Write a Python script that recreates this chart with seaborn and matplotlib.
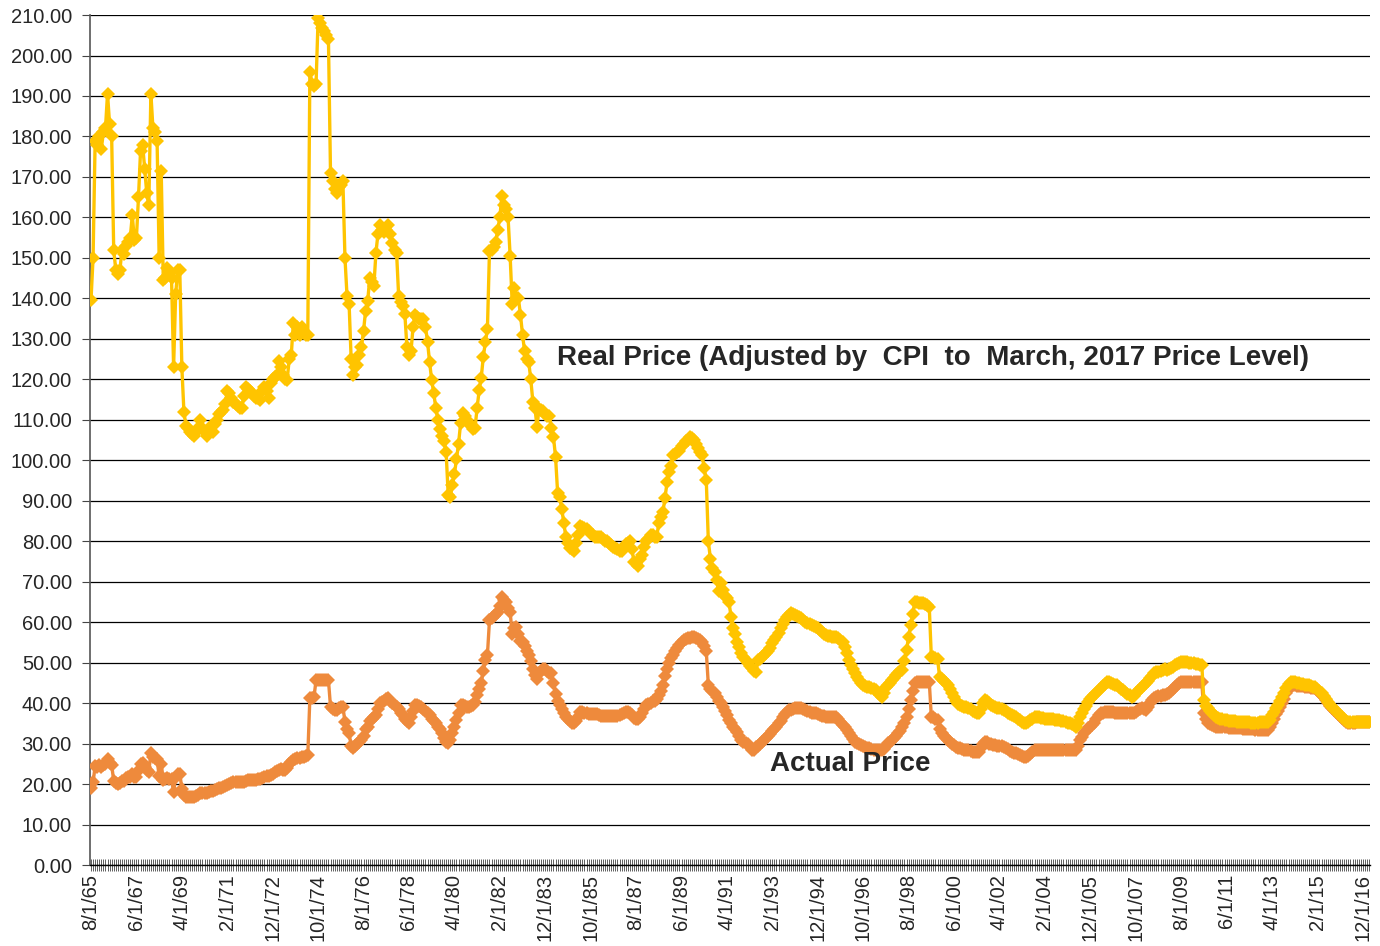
import numpy as np
import pandas as pd
import matplotlib
matplotlib.use('Agg')
import matplotlib.pyplot as plt
import matplotlib.ticker as mticker
import seaborn as sns

# monthly prices, Aug 1965 .. Mar 2017 (one row per calendar year)
real_price = [
    139.6, 150.0, 179.0, 178.0, 180.0,                                            # 1965
    177.0, 181.0, 182.0, 190.6, 183.0, 180.0, 152.0, 147.0, 146.0, 147.0, 152.0, 151.0,  # 1966
    153.0, 154.0, 155.0, 160.5, 154.5, 155.0, 165.0, 176.5, 178.0, 172.0, 166.0, 163.0,  # 1967
    190.6, 182.0, 181.0, 179.0, 150.0, 171.5, 144.5, 145.0, 147.5, 146.0, 145.0, 123.0,  # 1968
    141.0, 147.0, 147.0, 123.0, 112.0, 108.5, 108.0, 107.0, 106.5, 106.0, 107.0, 108.0,  # 1969
    110.0, 108.0, 107.0, 106.0, 107.0, 108.5, 107.0, 109.0, 110.0, 111.5, 112.0, 112.5,  # 1970
    114.0, 117.0, 116.5, 115.5, 114.5, 114.0, 113.5, 113.0, 113.0, 116.0, 118.0, 117.5,  # 1971
    117.0, 116.5, 116.0, 115.5, 115.5, 115.0, 117.0, 118.0, 117.0, 115.5, 119.0, 120.0,  # 1972
    120.5, 121.0, 124.5, 123.0, 121.0, 120.0, 119.8, 125.0, 126.0, 134.0, 131.0, 133.0,  # 1973
    131.0, 133.0, 131.5, 131.0, 131.0, 196.0, 193.0, 192.5, 193.0, 209.3, 208.0, 206.8,  # 1974
    206.0, 205.0, 204.0, 171.0, 169.0, 167.0, 166.0, 167.5, 168.0, 169.0, 150.0, 140.6,  # 1975
    138.7, 125.0, 121.0, 123.0, 123.5, 126.0, 128.0, 132.0, 137.0, 139.3, 145.0, 144.0,  # 1976
    143.0, 151.3, 156.0, 158.2, 157.0, 156.4, 157.0, 158.2, 156.0, 153.8, 152.0, 151.3,  # 1977
    140.6, 139.0, 138.0, 136.2, 128.0, 126.0, 127.0, 133.0, 136.0, 135.5, 135.0, 134.9,  # 1978
    134.9, 133.0, 129.2, 124.2, 119.8, 116.6, 112.9, 110.0, 107.8, 106.0, 104.7, 102.1,  # 1979
    91.4, 90.9, 93.9, 96.5, 100.3, 104.0, 109.1, 111.7, 111.0, 110.0, 109.1, 108.5,      # 1980
    107.8, 108.0, 112.9, 117.3, 120.4, 125.5, 129.2, 132.4, 151.8, 152.0, 152.6, 154.0,  # 1981
    157.0, 160.0, 165.2, 163.0, 162.0, 160.0, 150.5, 138.7, 142.5, 140.0, 140.0, 136.0,  # 1982
    131.0, 127.0, 125.0, 124.3, 120.0, 114.5, 113.0, 108.3, 112.7, 112.5, 112.2, 111.5,  # 1983
    111.0, 110.9, 108.0, 105.7, 100.8, 92.0, 91.0, 88.0, 84.5, 81.0, 79.5, 78.3,         # 1984
    78.0, 77.6, 79.5, 81.5, 83.7, 83.5, 83.3, 83.0, 82.5, 81.9, 81.5, 81.0,              # 1985
    81.0, 81.0, 81.0, 80.5, 80.0, 80.0, 79.5, 79.0, 78.5, 78.3, 78.0, 77.6,              # 1986
    77.6, 78.5, 79.3, 79.5, 80.0, 78.0, 74.9, 74.5, 73.9, 75.5, 76.6, 78.5,              # 1987
    80.0, 80.5, 81.5, 81.5, 81.0, 81.0, 84.5, 86.0, 87.2, 90.7, 94.6, 97.0,              # 1988
    98.6, 101.3, 101.5, 102.0, 102.3, 103.5, 104.0, 104.7, 105.0, 105.7, 105.5, 105.0,   # 1989
    104.0, 103.0, 102.0, 101.3, 98.0, 95.1, 80.0, 75.7, 73.5, 72.5, 70.5, 67.7,          # 1990
    69.7, 68.0, 66.5, 66.0, 65.0, 61.3, 58.5, 57.0, 55.0, 53.9, 52.5, 51.5,              # 1991
    50.6, 50.0, 49.2, 48.6, 48.0, 47.8, 50.6, 51.0, 51.5, 52.0, 52.3, 53.0,              # 1992
    53.5, 54.8, 55.5, 56.3, 57.3, 58.5, 59.5, 60.5, 61.3, 61.8, 62.2, 62.0,              # 1993
    61.8, 61.5, 61.3, 61.0, 60.5, 60.1, 59.8, 59.5, 59.2, 59.0, 58.9, 58.5,              # 1994
    58.0, 57.5, 57.0, 56.8, 56.6, 56.5, 56.4, 56.4, 56.4, 56.0, 55.5, 55.0,              # 1995
    53.9, 52.5, 50.6, 49.5, 48.5, 47.4, 46.5, 45.7, 45.0, 44.5, 44.2, 44.0,              # 1996
    44.0, 43.8, 43.5, 43.2, 42.5, 42.0, 41.6, 42.5, 44.0, 44.5, 45.0, 45.7,              # 1997
    46.2, 46.9, 47.5, 48.0, 48.2, 50.5, 53.1, 56.4, 59.3, 62.0, 65.0, 65.0,              # 1998
    64.8, 64.8, 64.8, 64.6, 64.3, 63.8, 51.5, 51.3, 51.1, 51.0, 46.5, 46.0,              # 1999
    45.5, 45.0, 44.5, 43.6, 42.5, 41.5, 40.5, 39.9, 39.6, 39.3, 39.1, 39.0,              # 2000
    38.8, 38.5, 38.0, 37.8, 37.5, 37.5, 38.5, 40.0, 40.8, 40.5, 40.0, 39.5,              # 2001
    39.2, 39.1, 38.9, 38.7, 38.5, 38.3, 38.0, 37.6, 37.3, 37.0, 36.8, 36.6,              # 2002
    36.2, 35.8, 35.4, 35.0, 35.0, 35.3, 35.8, 36.2, 36.6, 36.6, 36.5, 36.4,              # 2003
    36.3, 36.2, 36.2, 36.1, 36.0, 36.0, 35.9, 35.8, 35.8, 35.7, 35.6, 35.4,              # 2004
    35.2, 35.0, 34.8, 34.5, 34.2, 35.0, 36.5, 37.5, 38.5, 39.3, 40.3, 41.0,              # 2005
    41.5, 42.0, 42.6, 43.2, 43.8, 44.3, 44.8, 45.3, 45.2, 45.0, 44.8, 44.6,              # 2006
    44.5, 44.0, 43.5, 43.2, 42.8, 42.3, 42.0, 41.6, 41.8, 42.5, 43.0, 43.6,              # 2007
    44.0, 44.5, 44.9, 45.5, 46.2, 46.8, 47.4, 47.6, 47.8, 48.0, 48.2, 48.4,              # 2008
    48.2, 48.4, 48.7, 49.0, 49.3, 49.6, 49.9, 50.2, 50.2, 50.2, 50.1, 50.0,              # 2009
    49.9, 49.8, 49.7, 49.6, 49.5, 49.4, 40.8, 39.2, 38.7, 38.0, 37.5, 37.0,              # 2010
    36.6, 36.4, 36.2, 36.0, 35.9, 35.8, 35.7, 35.6, 35.5, 35.5, 35.4, 35.4,              # 2011
    35.4, 35.4, 35.3, 35.3, 35.3, 35.2, 35.2, 35.2, 35.2, 35.3, 35.3, 35.4,              # 2012
    35.4, 35.4, 35.8, 37.0, 37.9, 38.8, 39.5, 40.5, 41.5, 42.4, 43.8, 44.8,              # 2013
    45.3, 45.2, 45.1, 45.0, 44.9, 44.8, 44.7, 44.6, 44.5, 44.4, 44.2, 44.1,              # 2014
    44.0, 43.6, 43.0, 42.4, 41.8, 41.0, 40.3, 39.5, 39.0, 38.5, 38.0, 37.5,              # 2015
    37.0, 36.5, 36.0, 35.6, 35.4, 35.4, 35.4, 35.4, 35.4, 35.4, 35.4, 35.4,              # 2016
    35.4, 35.4, 35.4,                                                                    # 2017
]

actual_price = [
    19.1, 20.5, 24.4, 24.3, 24.6,                                                        # 1965
    24.3, 24.8, 24.9, 26.1, 25.1, 24.7, 20.8, 20.2, 20.0, 20.2, 20.8, 20.7,              # 1966
    21.5, 21.7, 21.8, 22.6, 21.8, 21.8, 23.2, 24.9, 25.1, 24.2, 23.4, 23.0,              # 1967
    27.8, 26.6, 26.4, 26.1, 21.9, 25.0, 21.1, 21.2, 21.5, 21.3, 21.2, 18.0,              # 1968
    21.7, 22.6, 22.6, 18.9, 17.2, 16.9, 16.8, 16.8, 16.8, 16.8, 17.0, 17.2,              # 1969
    17.7, 17.7, 17.8, 17.8, 18.0, 18.2, 18.3, 18.5, 18.7, 19.0, 19.0, 19.2,              # 1970
    19.5, 19.8, 20.0, 20.3, 20.6, 20.6, 20.5, 20.4, 20.4, 20.6, 20.8, 21.0,              # 1971
    21.0, 21.0, 21.0, 21.1, 21.2, 21.3, 21.5, 21.8, 22.0, 22.0, 22.3, 22.6,              # 1972
    23.0, 23.3, 23.5, 23.8, 23.5, 23.5, 24.0, 25.0, 25.5, 26.0, 26.2, 26.4,              # 1973
    26.4, 26.6, 26.8, 27.0, 27.2, 41.2, 41.3, 41.5, 45.7, 45.7, 45.7, 45.7,              # 1974
    45.7, 45.7, 45.7, 39.1, 38.5, 38.3, 38.3, 38.8, 39.0, 39.1, 35.4, 33.5,              # 1975
    32.5, 29.5, 28.8, 29.5, 30.0, 30.5, 31.0, 32.0, 33.5, 34.2, 35.5, 36.0,              # 1976
    36.5, 37.0, 38.5, 40.0, 40.3, 40.5, 41.0, 41.2, 40.5, 40.0, 39.5, 39.1,              # 1977
    38.5, 37.5, 37.0, 36.0, 35.5, 35.0, 36.5, 38.0, 39.5, 39.5, 39.3, 39.0,              # 1978
    38.5, 38.0, 37.5, 37.0, 36.0, 35.5, 35.0, 34.2, 33.5, 32.5, 31.5, 30.5,              # 1979
    30.1, 31.0, 32.5, 34.0, 35.8, 37.5, 39.5, 39.5, 39.3, 39.1, 39.1, 39.3,              # 1980
    39.5, 40.3, 42.0, 43.5, 45.0, 48.0, 50.6, 51.9, 60.5, 61.0, 61.5, 62.0,              # 1981
    62.5, 64.0, 66.3, 65.5, 65.0, 63.5, 62.5, 57.2, 58.5, 58.9, 57.0, 55.3,              # 1982
    55.0, 54.0, 53.0, 51.9, 50.5, 48.4, 47.0, 46.0, 47.5, 48.0, 48.4, 48.4,              # 1983
    48.0, 47.5, 47.4, 45.0, 42.2, 40.5, 39.5, 38.6, 37.5, 36.5, 36.0, 35.5,              # 1984
    35.1, 35.1, 35.5, 36.5, 37.8, 37.8, 37.5, 37.5, 37.3, 37.3, 37.3, 37.3,              # 1985
    37.2, 37.0, 36.8, 36.8, 36.8, 36.8, 36.8, 36.8, 36.8, 36.8, 36.8, 37.0,              # 1986
    37.2, 37.5, 37.8, 37.8, 37.5, 37.0, 36.4, 36.0, 36.0, 36.5, 37.5, 38.5,              # 1987
    39.5, 39.8, 40.0, 40.5, 40.5, 41.0, 42.0, 43.0, 44.5, 46.7, 48.5, 50.0,              # 1988
    51.1, 52.0, 53.0, 53.6, 54.3, 55.0, 55.5, 55.8, 56.0, 56.2, 56.3, 56.3,              # 1989
    56.0, 55.8, 55.5, 55.0, 54.0, 52.8, 44.5, 43.5, 43.0, 42.5, 41.6, 40.5,              # 1990
    40.0, 39.0, 38.0, 37.0, 35.8, 35.0, 34.2, 33.5, 32.8, 32.0, 31.0, 30.5,              # 1991
    30.2, 29.8, 29.2, 28.4, 28.4, 29.2, 29.5, 30.0, 30.5, 31.0, 31.3, 31.8,              # 1992
    32.3, 33.0, 33.5, 34.2, 35.0, 35.7, 36.5, 37.2, 37.8, 38.3, 38.3, 38.5,              # 1993
    38.7, 38.7, 38.7, 38.7, 38.5, 38.3, 38.0, 37.8, 37.6, 37.5, 37.5, 37.3,              # 1994
    37.0, 36.8, 36.7, 36.6, 36.6, 36.6, 36.6, 36.6, 36.6, 36.0, 35.3, 34.5,              # 1995
    34.0, 33.3, 32.5, 31.8, 31.2, 30.5, 30.2, 29.9, 29.6, 29.4, 29.2, 29.0,              # 1996
    28.8, 28.6, 28.5, 28.4, 28.4, 28.4, 28.4, 28.6, 29.5, 30.1, 30.5, 31.0,              # 1997
    31.5, 32.0, 32.5, 33.0, 34.0, 35.0, 36.6, 38.5, 40.8, 43.0, 44.9, 45.3,              # 1998
    45.3, 45.3, 45.3, 45.3, 45.3, 45.3, 36.6, 36.6, 36.2, 35.8, 33.5, 32.5,              # 1999
    32.0, 31.5, 31.0, 30.5, 30.0, 29.6, 29.2, 29.0, 28.8, 28.6, 28.4, 28.4,              # 2000
    28.4, 28.2, 28.0, 28.0, 28.0, 28.0, 29.0, 30.0, 30.5, 30.3, 30.0, 29.8,              # 2001
    29.7, 29.6, 29.5, 29.4, 29.3, 29.2, 29.0, 28.6, 28.2, 27.9, 27.7, 27.6,              # 2002
    27.4, 27.1, 26.9, 26.8, 26.8, 27.0, 27.5, 28.0, 28.4, 28.4, 28.4, 28.4,              # 2003
    28.4, 28.4, 28.4, 28.4, 28.4, 28.4, 28.4, 28.4, 28.4, 28.4, 28.4, 28.4,              # 2004
    28.4, 28.4, 28.4, 28.4, 28.4, 29.5, 30.8, 31.7, 32.5, 33.2, 33.8, 34.2,              # 2005
    34.6, 35.0, 36.0, 37.0, 37.5, 37.6, 37.8, 37.9, 37.9, 37.8, 37.7, 37.6,              # 2006
    37.5, 37.5, 37.5, 37.5, 37.5, 37.5, 37.5, 37.5, 37.6, 37.8, 38.2, 38.6,              # 2007
    38.7, 38.5, 38.3, 39.0, 40.0, 40.8, 41.2, 41.5, 41.7, 41.8, 42.0, 42.0,              # 2008
    42.2, 42.6, 43.1, 43.6, 44.0, 44.5, 45.0, 45.3, 45.3, 45.3, 45.3, 45.3,              # 2009
    45.3, 45.3, 45.3, 45.3, 45.3, 45.3, 37.5, 36.0, 35.0, 34.8, 34.5, 34.3,              # 2010
    34.2, 34.2, 34.2, 34.1, 34.0, 34.0, 33.9, 33.9, 33.8, 33.8, 33.8, 33.8,              # 2011
    33.8, 33.7, 33.7, 33.6, 33.6, 33.5, 33.5, 33.4, 33.4, 33.3, 33.3, 33.3,              # 2012
    33.3, 33.3, 34.0, 35.2, 36.2, 37.2, 38.0, 39.0, 40.0, 41.0, 42.4, 43.5,              # 2013
    44.3, 44.4, 44.4, 44.3, 44.3, 44.2, 44.2, 44.1, 44.0, 43.9, 43.8, 43.7,              # 2014
    43.7, 43.3, 42.7, 42.1, 41.5, 40.8, 40.1, 39.3, 38.8, 38.3, 37.8, 37.3,              # 2015
    36.8, 36.3, 35.8, 35.4, 35.2, 35.2, 35.2, 35.2, 35.3, 35.3, 35.3, 35.3,              # 2016
    35.3, 35.4, 35.4,                                                                    # 2017
]

tick_labels = ['8/1/65', '6/1/67', '4/1/69', '2/1/71', '12/1/72', '10/1/74', '8/1/76',
               '6/1/78', '4/1/80', '2/1/82', '12/1/83', '10/1/85', '8/1/87', '6/1/89',
               '4/1/91', '2/1/93', '12/1/94', '10/1/96', '8/1/98', '6/1/00', '4/1/02',
               '2/1/04', '12/1/05', '10/1/07', '8/1/09', '6/1/11', '4/1/13', '2/1/15',
               '12/1/16']

months = pd.date_range('1965-08-01', '2017-03-01', freq='MS')
assert len(real_price) == len(months) == len(actual_price)

df = pd.DataFrame({'idx': np.arange(len(months)), 'month': months,
                   'real': real_price, 'actual': actual_price})

sns.set_style('white')
plt.rcParams['font.family'] = ['Liberation Sans', 'DejaVu Sans']

fig = plt.figure(figsize=(13.8, 9.46), dpi=100)
ax = fig.add_axes([0.0652, 0.0856, 0.9276, 0.8985])

yellow = '#FFC400'
orange = '#EE8A3C'

sns.lineplot(data=df, x='idx', y='actual', color=orange, marker='D', markersize=7.5,
             markeredgewidth=0, linewidth=2.4, ax=ax, zorder=3)
sns.lineplot(data=df, x='idx', y='real', color=yellow, marker='D', markersize=7.5,
             markeredgewidth=0, linewidth=2.4, ax=ax, zorder=4)

ax.set_xlim(-0.5, len(months) - 0.5)
ax.set_ylim(0, 210)
ax.yaxis.set_major_locator(mticker.MultipleLocator(10))
ax.yaxis.set_major_formatter(mticker.FormatStrFormatter('%.2f'))
ax.grid(axis='y', color='black', linewidth=0.9)
ax.set_axisbelow(True)

ax.set_xticks(np.arange(0, len(months), 22))
ax.set_xticklabels(tick_labels, rotation=90)
ax.set_xticks(np.arange(len(months)), minor=True)
ax.tick_params(axis='x', which='both', direction='inout', length=9, width=0.6,
               color='#444444', labelsize=14.5, pad=2, bottom=True)
ax.tick_params(axis='y', direction='out', length=6, width=0.8, color='#444444',
               labelsize=14.5, pad=7, left=True)

for s in ['top', 'right']:
    ax.spines[s].set_visible(False)
ax.spines['left'].set_color('#555555')
ax.spines['left'].set_linewidth(1.2)
ax.spines['bottom'].set_color('black')
ax.spines['bottom'].set_linewidth(1)
ax.set_xlabel('')
ax.set_ylabel('')

ax.text(0.6586, 0.5965, 'Real Price (Adjusted by  CPI  to  March, 2017 Price Level)',
        transform=ax.transAxes, ha='center', va='center', fontsize=20,
        fontweight='bold', zorder=6)
ax.text(0.594, 0.1188, 'Actual Price', transform=ax.transAxes, ha='center',
        va='center', fontsize=20, fontweight='bold', zorder=6)

fig.savefig('out.png', dpi=100)
